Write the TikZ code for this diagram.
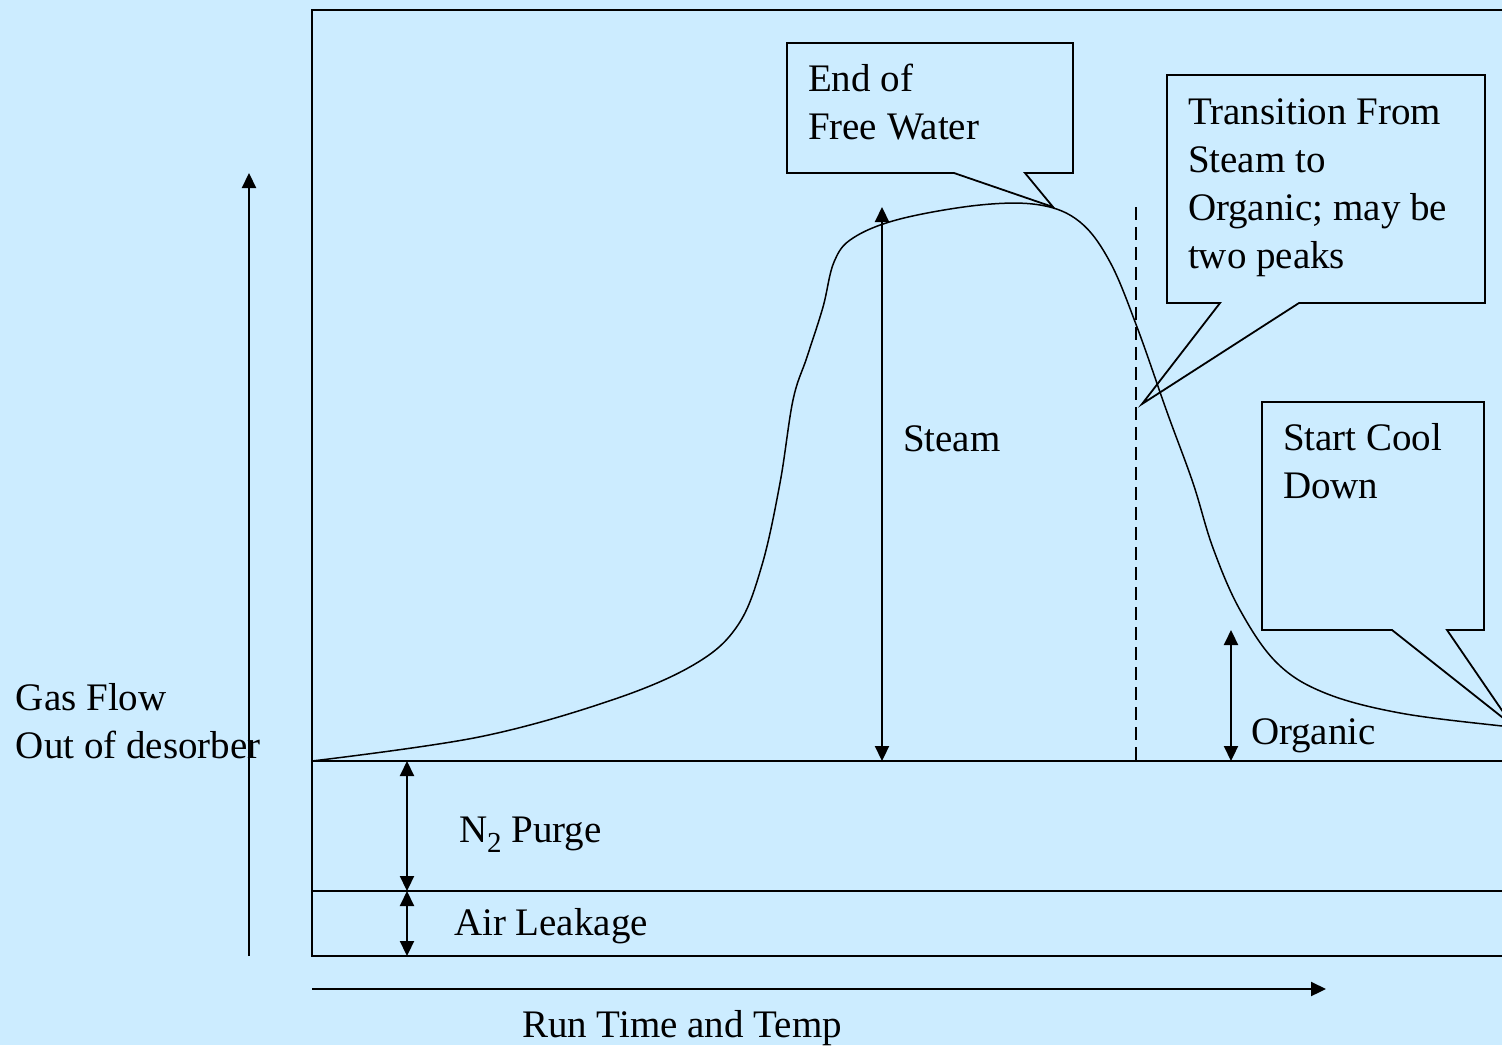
\documentclass[tikz,border=0pt]{standalone}
\usepackage{fontspec}
\setmainfont{Liberation Serif}
\usetikzlibrary{arrows.meta}
\definecolor{bgblue}{RGB}{204,236,255}
\tikzset{
  frameline/.style={line width=1.9pt},
  curveline/.style={line width=1.5pt},
  callout/.style={line width=1.8pt, line join=miter},
  tip/.style={-{Triangle[length=15pt,width=14pt]}, line width=2.2pt},
  dbl/.style={{Triangle[length=15pt,width=14pt]}-{Triangle[length=15pt,width=14pt]}, line width=2.2pt},
  lbl/.style={anchor=base west, inner sep=0pt, outer sep=0pt, align=left, font=\fontsize{39}{48}\selectfont}
}
\begin{document}
\begin{tikzpicture}[x=1pt,y=-1pt]
\path[use as bounding box, fill=bgblue] (0,0) rectangle (1502,1045);
\clip (0,0) rectangle (1502,1045);
% coordinates
\coordinate (fTL) at (312,10);
\coordinate (fTR) at (1560,10);
\coordinate (b1L) at (312,761);
\coordinate (b1R) at (1560,761);
\coordinate (b2L) at (312,891);
\coordinate (b2R) at (1560,891);
\coordinate (b3L) at (312,956);
\coordinate (b3R) at (1560,956);
\coordinate (yaxB) at (249,956);
\coordinate (yaxT) at (249,173);
\coordinate (xaxL) at (312,989);
\coordinate (xaxR) at (1326,989);
\coordinate (stT) at (882,207);
\coordinate (stB) at (882,761);
\coordinate (orT) at (1231,630);
\coordinate (orB) at (1231,761);
\coordinate (n2T) at (407,761);
\coordinate (n2B) at (407,891);
\coordinate (alT) at (407,891);
\coordinate (alB) at (407,956);
\coordinate (dsT) at (1136,207);
\coordinate (dsB) at (1136,761);
% frame
\draw[frameline] (fTR) -- (fTL) -- (b3L) -- (b3R);
\draw[frameline] (b1L) -- (b1R);
\draw[frameline] (b2L) -- (b2R);
% curve
\draw[curveline] plot[smooth, tension=0.6] coordinates {
(312,761) (479,737) (612,700) (695,664) (738,625) (762,565) (780,483)
(793,400) (807,357) (823,307) (834,262) (853,238) (900,219) (980,205)
(1040,205) (1080,222) (1110,262) (1137,327) (1167,412) (1193,483)
(1213,548) (1240,610) (1277,663) (1325,693) (1400,713) (1502,726) (1530,728)};
% dashed line
\draw[line width=1.7pt, dash pattern=on 13pt off 7pt] (dsT) -- (dsB);
% arrows
\draw[tip] (yaxB) -- (yaxT);
\draw[tip] (xaxL) -- (xaxR);
\draw[dbl] (stB) -- (stT);
\draw[dbl] (orB) -- (orT);
\draw[dbl] (n2B) -- (n2T);
\draw[dbl] (alB) -- (alT);
% callouts
\draw[callout] (787,43) coordinate (c1) -- (1073,43) -- (1073,173) -- (1025,173)
  -- (1053,207) coordinate (c1tip) -- (954,173) -- (787,173) -- cycle;
\draw[callout] (1167,75) coordinate (c2) -- (1485,75) -- (1485,303) -- (1299,303)
  -- (1142,404) coordinate (c2tip) -- (1220,303) -- (1167,303) -- cycle;
\draw[callout] (1262,402) coordinate (c3) -- (1484,402) -- (1484,630) -- (1447,630)
  -- (1512,725) coordinate (c3tip) -- (1392,630) -- (1262,630) -- cycle;
% labels (base anchor = baseline of the last line)
\node[lbl] (tEnd) at (808,139) {End of\\Free Water};
\node[lbl] (tTrans) at (1188,268) {Transition From\\Steam to\\Organic; may be\\two peaks};
\node[lbl] (tCool) at (1283,498) {Start Cool\\Down};
\node[lbl] (tSteam) at (903,451) {Steam};
\node[lbl] (tOrg) at (1251,744) {Organic};
\node[lbl] (tN2) at (459,842) {N\raisebox{-10pt}{\fontsize{29}{29}\selectfont 2} Purge};
\node[lbl] (tAir) at (454,935) {Air Leakage};
\node[lbl] (tRun) at (522,1037) {Run Time and Temp};
\node[lbl] (tGas) at (16,758) {Gas Flow\\Out of desorber};
\end{tikzpicture}
\end{document}
